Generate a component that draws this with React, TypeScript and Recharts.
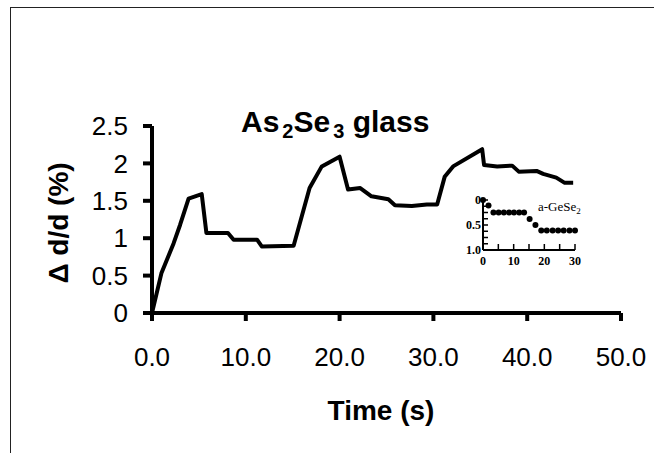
import React from 'react';
import { LineChart, Line, XAxis, YAxis, ScatterChart, Scatter } from 'recharts';

// main curve: As2Se3 glass
const timeS = [0, 1.0, 2.3, 3.0, 3.9, 5.3, 5.8, 8.1, 8.7, 11.2, 11.7, 15.1, 16.8, 18.1, 20.0, 20.9, 22.2, 23.4, 25.2, 25.9, 27.7, 29.3, 30.4, 31.2, 32.1, 35.2, 35.4, 36.8, 38.4, 39.1, 41.0, 41.7, 43.1, 44.0, 44.9];
const deltaD = [0, 0.53, 0.93, 1.18, 1.53, 1.59, 1.07, 1.07, 0.98, 0.98, 0.89, 0.9, 1.67, 1.96, 2.09, 1.65, 1.67, 1.56, 1.52, 1.44, 1.43, 1.45, 1.45, 1.82, 1.96, 2.19, 1.98, 1.96, 1.97, 1.89, 1.9, 1.86, 1.81, 1.74, 1.74];
const xTicks = [0, 10, 20, 30, 40, 50];
const yTicks = [0, 0.5, 1, 1.5, 2, 2.5];

// inset: a-GeSe2
const insetTime = [0, 1.8, 3.4, 5.1, 6.8, 8.5, 10.1, 11.8, 13.4, 15.2, 17.1, 19.0, 20.8, 22.7, 24.5, 26.3, 28.2, 30.0];
const insetVal = [0, 0.11, 0.25, 0.25, 0.25, 0.25, 0.25, 0.25, 0.25, 0.38, 0.5, 0.61, 0.61, 0.61, 0.61, 0.61, 0.61, 0.61];
const insetXTicks = [0, 5, 10, 15, 20, 25, 30];
const insetYTicks = [0, 0.125, 0.25, 0.375, 0.5, 0.625, 0.75, 0.875, 1];

const sans = '"Liberation Sans", Arial, sans-serif';
const serif = '"Liberation Serif", "Times New Roman", serif';

const mainData = timeS.map((t, i) => ({ t, d: deltaD[i] }));
const insetData = insetTime.map((t, i) => ({ t, v: insetVal[i] }));

const insetYLabel = (v: number) => (v === 0 ? '0' : v === 0.5 ? '0.5' : v === 1 ? '1.0' : '');

const Dot = (p: any) => <circle cx={p.cx} cy={p.cy} r={3} fill="#000" />;

export default function App() {
  return (
    <div style={{ position: 'fixed', inset: 0, overflow: 'hidden', background: '#fff' }}>
      <div
        style={{
          position: 'absolute',
          left: 10,
          top: 7,
          width: 700,
          height: 500,
          borderLeft: '1px solid #222',
          borderTop: '1px solid #222',
        }}
      />
      <div style={{ position: 'absolute', left: 0, top: 0 }}>
        <LineChart width={654} height={453} data={mainData} margin={{ top: 126, right: 33, bottom: 100, left: 0 }}>
          <XAxis
            type="number"
            dataKey="t"
            domain={[0, 50]}
            ticks={xTicks}
            interval={0}
            tickFormatter={(v) => v.toFixed(1)}
            height={40}
            tickSize={8}
            tickMargin={27}
            axisLine={{ stroke: '#000', strokeWidth: 4 }}
            tickLine={{ stroke: '#000', strokeWidth: 4 }}
            tick={{ fill: '#000', fontSize: 26, fontFamily: sans }}
          />
          <YAxis
            type="number"
            domain={[0, 2.5]}
            ticks={yTicks}
            interval={0}
            width={152}
            tickSize={9}
            tickMargin={15}
            axisLine={{ stroke: '#000', strokeWidth: 4 }}
            tickLine={{ stroke: '#000', strokeWidth: 4 }}
            tick={{ fill: '#000', fontSize: 26, fontFamily: sans }}
          />
          <Line
            type="linear"
            dataKey="d"
            stroke="#000"
            strokeWidth={4}
            strokeLinejoin="round"
            dot={false}
            isAnimationActive={false}
          />
        </LineChart>
      </div>
      <div style={{ position: 'absolute', left: 440, top: 185 }}>
        <ScatterChart width={160} height={90} margin={{ top: 15, right: 25, bottom: 0, left: 0 }}>
          <XAxis
            type="number"
            dataKey="t"
            domain={[0, 30]}
            ticks={insetXTicks}
            interval={0}
            tickFormatter={(v) => (v % 10 === 0 ? String(v) : '')}
            height={25}
            tickSize={-6}
            tickMargin={12}
            axisLine={{ stroke: '#000', strokeWidth: 2 }}
            tickLine={{ stroke: '#000', strokeWidth: 1.5 }}
            tick={{ fill: '#000', fontSize: 12, fontFamily: serif, fontWeight: 'bold' }}
          />
          <YAxis
            type="number"
            dataKey="v"
            domain={[0, 1]}
            reversed
            ticks={insetYTicks}
            interval={0}
            tickFormatter={insetYLabel}
            width={43}
            tickSize={-5}
            tickMargin={7}
            axisLine={{ stroke: '#000', strokeWidth: 2 }}
            tickLine={{ stroke: '#000', strokeWidth: 1.5 }}
            tick={{ fill: '#000', fontSize: 12, fontFamily: serif, fontWeight: 'bold' }}
          />
          <Scatter data={insetData} shape={Dot} isAnimationActive={false} />
        </ScatterChart>
      </div>
      <svg width={654} height={453} style={{ position: 'absolute', left: 0, top: 0, pointerEvents: 'none' }}>
        <text x={241} y={132} fontFamily={sans} fontWeight="bold" fontSize={30} fill="#000">
          As<tspan fontSize={20} dy={6} dx={3}>2</tspan>
          <tspan dy={-6}>Se</tspan>
          <tspan fontSize={20} dy={6} dx={3}>3</tspan>
          <tspan dy={-6}> glass</tspan>
        </text>
        <text x={381} y={420} textAnchor="middle" fontFamily={sans} fontWeight="bold" fontSize={28} fill="#000">
          Time (s)
        </text>
        <text
          transform="translate(68,223) rotate(-90)"
          textAnchor="middle"
          fontFamily={sans}
          fontWeight="bold"
          fontSize={28}
          fill="#000"
        >
          Δ d/d (%)
        </text>
        <text x={538} y={211} fontFamily={serif} fontSize={13} fill="#000">
          a-GeSe<tspan fontSize={9} dy={3}>2</tspan>
        </text>
      </svg>
    </div>
  );
}
